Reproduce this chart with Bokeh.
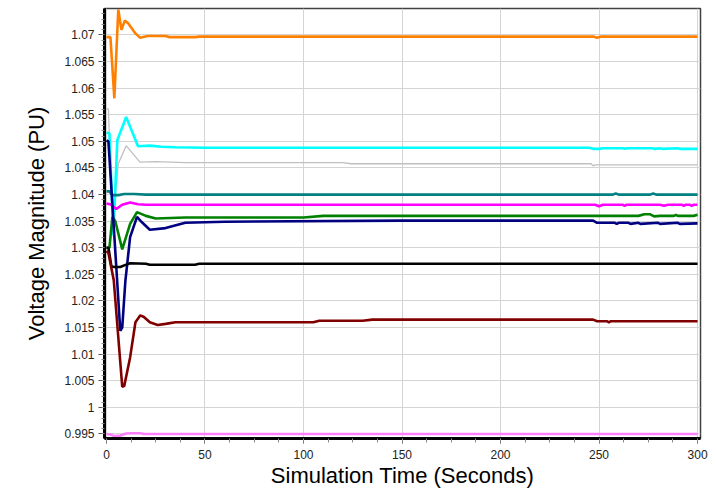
from bokeh.plotting import figure
from bokeh.models import Range1d, SingleIntervalTicker, CustomJSTickFormatter
from bokeh.embed import file_html
from bokeh.resources import INLINE

# ---- data ----
orange_t = [0, 2, 4, 6, 7.6, 9.3, 11, 14.7, 17, 21, 30, 32, 45, 47, 247, 249, 251, 300]
orange_v = [1.0696, 1.0696, 1.0581, 1.0748, 1.0710, 1.0727, 1.0722, 1.0703, 1.0695, 1.0698,
            1.0698, 1.0696, 1.0696, 1.0697, 1.0697, 1.0695, 1.0697, 1.0697]

cyan_t = [0, 1.5, 3.5, 5.5, 10, 16, 22, 28, 35, 50, 245, 247, 250, 252, 262, 263, 264,
          277, 278, 281, 282, 290, 291, 300]
cyan_v = [1.0517, 1.0515, 1.0323, 1.0502, 1.0546, 1.0491, 1.0492, 1.0490, 1.0489, 1.0488,
          1.0488, 1.0486, 1.0486, 1.0487, 1.0487, 1.0486, 1.0487, 1.0487, 1.0486, 1.0487,
          1.0486, 1.0487, 1.0486, 1.0486]

gray_t = [0, 1, 3, 6, 10, 17, 25, 40, 120, 124, 246, 247, 248, 300]
gray_v = [1.0561, 1.0561, 1.0340, 1.0458, 1.0492, 1.0461, 1.0462, 1.0460, 1.0460, 1.0458,
          1.0458, 1.0454, 1.0456, 1.0456]

teal_t = [0, 1.5, 3, 6, 9, 14, 20, 257, 258.5, 260, 276, 277.5, 279, 300]
teal_v = [1.0406, 1.0406, 1.0399, 1.0399, 1.0401, 1.0401, 1.0400, 1.0400, 1.0402, 1.0400,
          1.0400, 1.0402, 1.0400, 1.0400]

magenta_t = [0, 2, 5, 8, 12, 16, 20, 30, 248, 250, 252, 262, 263, 264, 281, 283, 285,
             292, 293, 294, 296, 297, 298, 300]
magenta_v = [1.0383, 1.0382, 1.0373, 1.0381, 1.0385, 1.0382, 1.0381, 1.0381, 1.0381, 1.0378,
             1.0381, 1.0381, 1.0379, 1.0381, 1.0381, 1.0379, 1.0381, 1.0381, 1.0379, 1.0381,
             1.0381, 1.0379, 1.0381, 1.0381]

green_t = [0, 1.5, 3, 4.5, 8, 12, 15.5, 20, 25, 40, 100, 110, 270, 273, 276, 278, 281,
           288, 289, 290, 298, 300]
green_v = [1.0300, 1.0300, 1.0358, 1.0350, 1.0297, 1.0345, 1.0367, 1.0360, 1.0355, 1.0357,
           1.0357, 1.0360, 1.0360, 1.0363, 1.0363, 1.0359, 1.0360, 1.0360, 1.0362, 1.0360,
           1.0360, 1.0362]

navy_t = [0, 1, 7, 8, 9.6, 12, 15.5, 18, 22, 30, 40, 60, 150, 247, 249, 258, 259, 260,
          265, 266, 270, 271, 280, 281, 290, 291, 300]
navy_v = [1.0502, 1.0500, 1.0144, 1.0150, 1.0238, 1.0320, 1.0358, 1.0348, 1.0334, 1.0337,
          1.0347, 1.0349, 1.0351, 1.0351, 1.0347, 1.0347, 1.0345, 1.0347, 1.0347, 1.0345,
          1.0347, 1.0345, 1.0347, 1.0345, 1.0347, 1.0345, 1.0346]

black_t = [0, 1, 2.5, 4, 7, 9, 12, 20, 22, 45, 47, 300]
black_v = [1.0300, 1.0300, 1.0265, 1.0264, 1.0264, 1.0267, 1.0271, 1.0270, 1.0268, 1.0268,
           1.0270, 1.0270]

darkred_t = [0, 1, 3.7, 8, 9, 12, 14.7, 17.2, 19, 22, 26, 30, 35, 105, 108, 130, 135, 247,
             249, 254, 255, 256, 300]
darkred_v = [1.0294, 1.0290, 1.0239, 1.0039, 1.0040, 1.0094, 1.0160, 1.0173, 1.0170, 1.0160,
             1.0155, 1.0157, 1.0160, 1.0160, 1.0163, 1.0163, 1.0165, 1.0165, 1.0162, 1.0162,
             1.0160, 1.0162, 1.0162]

violet_t = [0, 2, 4, 7, 10, 13, 17, 19, 300]
violet_v = [0.9950, 0.9949, 0.9946, 0.9947, 0.9951, 0.99515, 0.99515, 0.9950, 0.9950]

series = [
    (gray_t, gray_v, "#C0C0C0", 1.3),
    (cyan_t, cyan_v, "#00FFFF", 2.6),
    (orange_t, orange_v, "#FF8000", 2.6),
    (teal_t, teal_v, "#008080", 2.6),
    (magenta_t, magenta_v, "#FF00FF", 2.6),
    (green_t, green_v, "#008000", 2.6),
    (navy_t, navy_v, "#000080", 2.6),
    (black_t, black_v, "#000000", 2.6),
    (darkred_t, darkred_v, "#800000", 2.6),
    (violet_t, violet_v, "#FF80FF", 2.6),
]

p = figure(width=712, height=496, output_backend="svg", toolbar_location=None,
           x_range=Range1d(-1, 301.5), y_range=Range1d(0.994154, 1.074981),
           min_border_left=104, min_border_right=12, min_border_top=8, min_border_bottom=58)

for t, v, c, w in series:
    p.line(t, v, line_color=c, line_width=w)

p.xaxis.ticker = SingleIntervalTicker(interval=50, num_minor_ticks=4)
p.yaxis.ticker = SingleIntervalTicker(interval=0.005, num_minor_ticks=5)
p.yaxis.formatter = CustomJSTickFormatter(code="return parseFloat(tick.toFixed(4)).toString();")

p.xaxis.axis_label = "Simulation Time (Seconds)"
p.yaxis.axis_label = "Voltage Magnitude (PU)"
for ax in (p.xaxis, p.yaxis):
    ax.axis_label_text_font = "Liberation Sans"
    ax.axis_label_text_font_style = "normal"
    ax.axis_label_text_font_size = "22px"
    ax.axis_label_text_color = "#000000"
    ax.major_label_text_font = "Liberation Sans"
    ax.major_label_text_font_size = "12px"
    ax.major_label_text_color = "#222222"
    ax.axis_line_color = "#000000"
    ax.axis_line_width = 3
    ax.major_tick_in = 0
    ax.minor_tick_in = 0
    ax.major_tick_line_color = "#555555"
    ax.minor_tick_line_color = "#888888"

p.yaxis.major_tick_out = 6
p.yaxis.minor_tick_out = 3
p.yaxis.major_label_standoff = 4
p.yaxis.axis_label_standoff = 12
p.xaxis.major_tick_out = 5
p.xaxis.minor_tick_out = 4
p.xaxis.major_label_standoff = 6
p.xaxis.axis_label_standoff = 1

p.xgrid.grid_line_color = "#D4D4D4"
p.ygrid.grid_line_color = "#D4D4D4"
p.xgrid.grid_line_width = 1
p.ygrid.grid_line_width = 1

p.outline_line_color = "#404040"
p.outline_line_width = 1.5
p.background_fill_color = "#FFFFFF"
p.border_fill_color = "#FFFFFF"

open("out.html", "w").write(file_html(p, INLINE))
